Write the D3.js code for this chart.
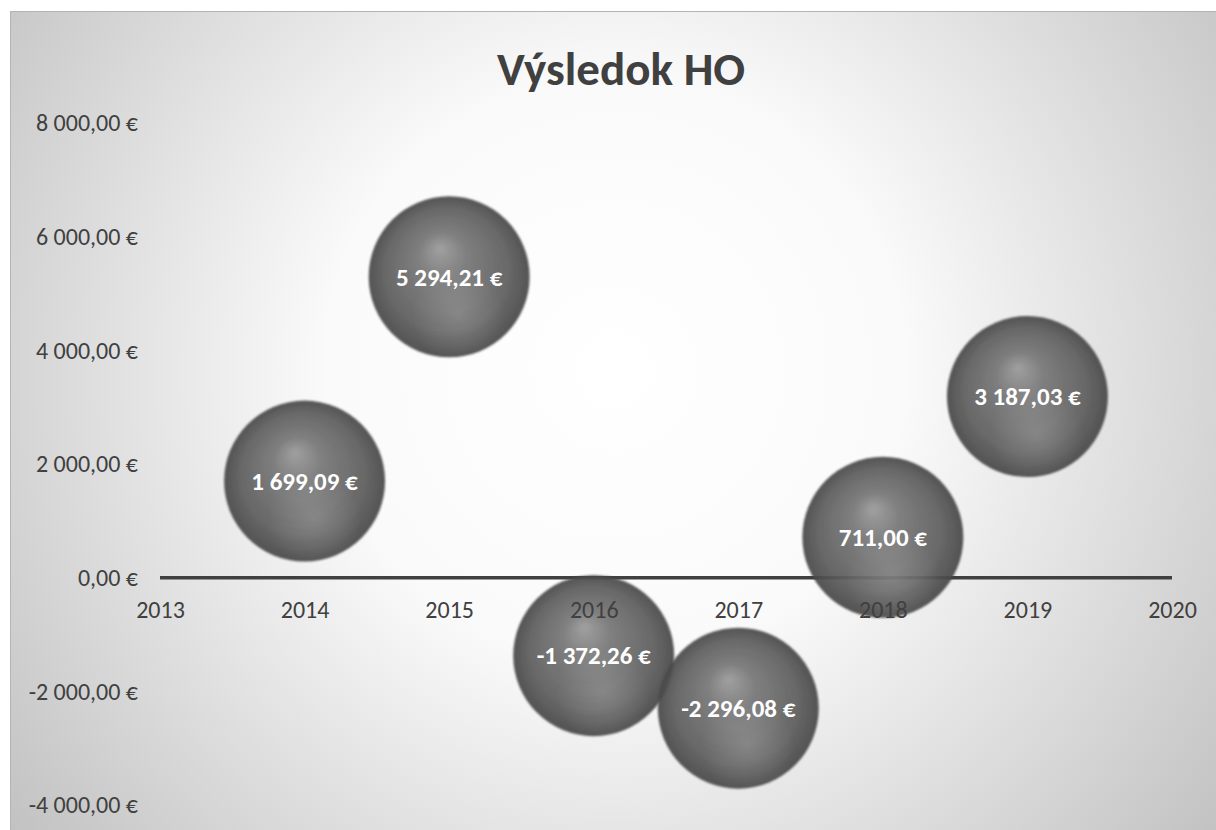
<!DOCTYPE html>
<html><head><meta charset="utf-8">
<script src="https://cdn.jsdelivr.net/npm/d3@7"></script>
<style>html,body{margin:0;padding:0;background:#fff;}svg{display:block;}</style>
</head><body>
<script>
const years = [2014, 2015, 2016, 2017, 2018, 2019];
const values = [1699.09, 5294.21, -1372.26, -2296.08, 711.00, 3187.03];
const sizes = [1, 1, 1, 1, 1, 1];
const yTicks = [-4000, -2000, 0, 2000, 4000, 6000, 8000];
const xTicks = [2013, 2014, 2015, 2016, 2017, 2018, 2019, 2020];
const title = "Výsledok HO";

const W = 1216, H = 830;
const FONT = "Carlito, 'Open Sans', sans-serif";
const svg = d3.select("body").append("svg").attr("width", W).attr("height", H);
const defs = svg.append("defs");

const bg = defs.append("radialGradient").attr("id", "bg")
  .attr("gradientUnits", "userSpaceOnUse").attr("cx", 615).attr("cy", 370).attr("r", 760);
bg.append("stop").attr("offset", "0").attr("stop-color", "#ffffff");
bg.append("stop").attr("offset", "0.38").attr("stop-color", "#fafafa");
bg.append("stop").attr("offset", "1").attr("stop-color", "#c2c2c2");

const sph = defs.append("radialGradient").attr("id", "sph")
  .attr("cx", "0.5").attr("cy", "0.5").attr("r", "0.5").attr("fx", "0.44").attr("fy", "0.32");
sph.append("stop").attr("offset", "0").attr("stop-color", "#9a9a9a");
sph.append("stop").attr("offset", "0.3").attr("stop-color", "#767676");
sph.append("stop").attr("offset", "0.75").attr("stop-color", "#5f5f5f");
sph.append("stop").attr("offset", "1").attr("stop-color", "#484848");

const glow = defs.append("radialGradient").attr("id", "glow")
  .attr("cx", "0.56").attr("cy", "0.74").attr("r", "0.3");
glow.append("stop").attr("offset", "0").attr("stop-color", "#ffffff").attr("stop-opacity", 0.16);
glow.append("stop").attr("offset", "1").attr("stop-color", "#ffffff").attr("stop-opacity", 0);

const blur = defs.append("filter").attr("id", "soft").attr("x", "-10%").attr("y", "-10%").attr("width", "120%").attr("height", "120%");
blur.append("feGaussianBlur").attr("stdDeviation", 1.2);

// frame
svg.append("rect").attr("x", 10).attr("y", 11).attr("width", W - 10).attr("height", H - 11)
  .attr("fill", "url(#bg)");
svg.append("line").attr("x1", 10.5).attr("x2", 10.5).attr("y1", 11).attr("y2", H).attr("stroke", "#b4b4b4");
svg.append("line").attr("x1", 10).attr("x2", W).attr("y1", 11.5).attr("y2", 11.5).attr("stroke", "#b4b4b4");

svg.append("text").attr("x", 621).attr("y", 85).attr("text-anchor", "middle")
  .attr("font-family", FONT).attr("font-weight", "bold").attr("font-size", 47)
  .attr("fill", "#404040").text(title);

const x = d3.scaleLinear().domain([2013, 2020]).range([160, 1172]);
const y = d3.scaleLinear().domain([-4000, 8000]).range([805, 123]);
const r = d3.scaleSqrt().domain([0, 1]).range([0, 80.5]);

const fmt = v => {
  const s = d3.format(",.2f")(v);
  return s.replace(/,/g, " ").replace(".", ",").replace("−", "-") + " €";
};

// y axis labels
const yAxis = d3.axisLeft(y).tickValues(yTicks).tickSize(0).tickPadding(0).tickFormat(fmt);
const yg = svg.append("g").attr("transform", "translate(138,0)").call(yAxis);
yg.select(".domain").remove();
yg.selectAll("text").attr("font-family", FONT).attr("font-size", 24)
  .attr("fill", "#404040");

// zero line
svg.append("line").attr("x1", x(2013)).attr("x2", x(2020)).attr("y1", y(0)).attr("y2", y(0))
  .attr("stroke", "#404040").attr("stroke-width", 3.5);

// bubbles
const data = years.map((yr, i) => ({yr, v: values[i], s: sizes[i]}));
const bg2 = svg.append("g");
const b = bg2.selectAll("g.b").data(data).join("g").attr("class", "b")
  .attr("transform", d => `translate(${x(d.yr)},${y(d.v)})`);
b.append("circle").attr("r", d => r(d.s)).attr("fill", "url(#sph)").attr("opacity", 0.93).attr("filter", "url(#soft)");
b.append("circle").attr("r", d => r(d.s) - 2).attr("fill", "url(#glow)");

// x axis labels (on top)
const xAxis = d3.axisBottom(x).tickValues(xTicks).tickSize(0).tickPadding(0).tickFormat(d3.format("d"));
const xg = svg.append("g").attr("transform", `translate(0,${y(0) + 40})`).call(xAxis);
xg.select(".domain").remove();
xg.selectAll("text").attr("font-family", FONT).attr("font-size", 24)
  .attr("fill", "#404040").attr("dy", "0");

// data labels
svg.append("g").selectAll("text").data(data).join("text")
  .attr("x", d => x(d.yr)).attr("y", d => y(d.v)).attr("dy", "0.35em")
  .attr("text-anchor", "middle")
  .attr("font-family", FONT).attr("font-weight", "bold").attr("font-size", 25)
  .attr("fill", "#ffffff").text(d => fmt(d.v));
</script>
</body></html>
